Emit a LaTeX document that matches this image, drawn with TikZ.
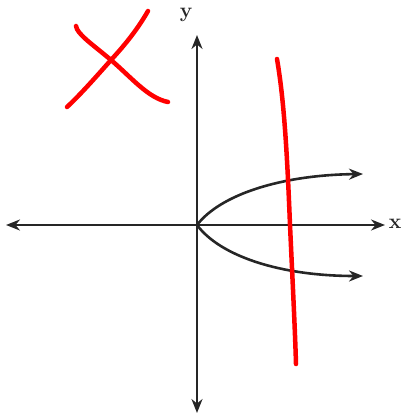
\documentclass[tikz,border=0pt]{standalone}
\usetikzlibrary{arrows.meta}
\begin{document}
\begin{tikzpicture}[x=1pt,y=-1pt,
  axis/.style={draw=axiscol,line width=2.2pt,{Stealth[length=14pt,width=11pt]}-{Stealth[length=14pt,width=11pt]}},
  branch/.style={draw=axiscol,line width=2.6pt,-{Stealth[length=14pt,width=11pt]}},
  ink/.style={draw=red,line width=4.5pt,line cap=round,line join=round},
  lab/.style={text=axiscol,font=\fontsize{21}{21}\selectfont\bfseries,inner sep=0pt}]
\definecolor{axiscol}{HTML}{262626}
\useasboundingbox (0,0) rectangle (403,415);
\coordinate (O) at (197,225);
\coordinate (L) at (6,225);
\coordinate (R) at (385,225);
\coordinate (T) at (197,35);
\coordinate (B) at (197,413);
\coordinate (U) at (363,174);
\coordinate (D) at (363,276);
\draw[axis] (L) -- (R);
\draw[axis] (B) -- (T);
\node[lab] (ylab) at (186,15) {y};
\node[lab] (xlab) at (395,224) {x};
\draw[branch] (O) .. controls (220,195) and (280,175) .. (U);
\draw[branch] (O) .. controls (220,256) and (280,276) .. (D);
\draw[ink] (76,26) .. controls (77,34) and (92,44) .. (111,60) .. controls (132,78) and (148,98) .. (168,102);
\draw[ink] (148,11) .. controls (136,32) and (122,48) .. (111,60) .. controls (95,78) and (80,95) .. (67,107);
\draw[ink] (277,59) .. controls (284,100) and (287,150) .. (290,225) .. controls (293,290) and (295,330) .. (296,364);
\end{tikzpicture}
\end{document}
